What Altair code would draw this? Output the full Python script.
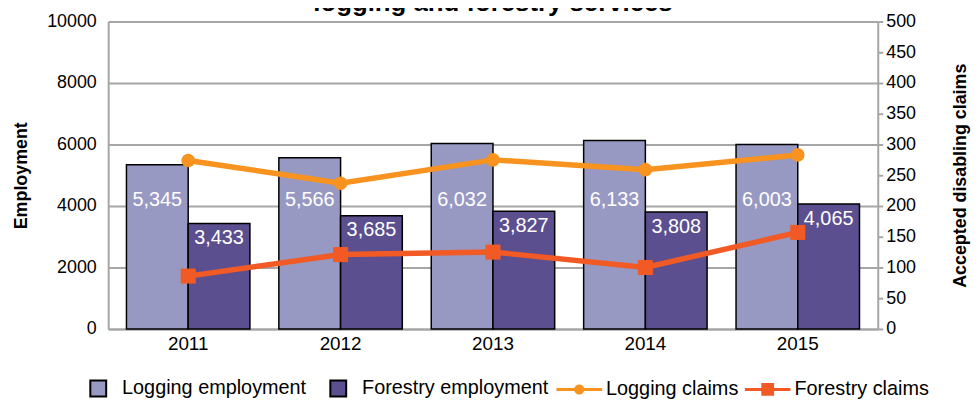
import altair as alt
import pandas as pd

# ---- data ----
years = ["2011", "2012", "2013", "2014", "2015"]
logging_employment = [5345, 5566, 6032, 6133, 6003]
forestry_employment = [3433, 3685, 3827, 3808, 4065]
logging_claims = [274, 237, 275, 259, 283]
forestry_claims = [86, 121, 125, 100, 157]

emp_series = ["Logging employment", "Forestry employment"]
claim_series = ["Logging claims", "Forestry claims"]
emp_colors = ["#9899c3", "#5b4f8f"]
claim_colors = ["#f7931e", "#f15a24"]
left_ticks = [0, 2000, 4000, 6000, 8000, 10000]
right_ticks = [0, 50, 100, 150, 200, 250, 300, 350, 400, 450, 500]

FONT = "Liberation Sans"

emp_df = pd.DataFrame({
    "year": years * 2,
    "series": [emp_series[0]] * len(years) + [emp_series[1]] * len(years),
    "value": logging_employment + forestry_employment,
})
emp_df["label"] = emp_df["value"].map(lambda v: f"{v:,}")

claims_df = pd.DataFrame({
    "year": years * 2,
    "series": [claim_series[0]] * len(years) + [claim_series[1]] * len(years),
    "claims": logging_claims + forestry_claims,
})

# ---- shared encodings ----
x_scale = alt.Scale(domain=years, paddingInner=0.19, paddingOuter=0.12)
x_enc = alt.X(
    "year:N", scale=x_scale,
    axis=alt.Axis(title=None, labelAngle=0, ticks=False, tickSize=0,
                  domainColor="#a6a6a6", domainWidth=2, labelFontSize=19,
                  labelPadding=6, labelColor="black", labelFont=FONT),
)
xoff = alt.XOffset("series:N", sort=emp_series,
                   scale=alt.Scale(domain=emp_series, paddingInner=0, paddingOuter=0))
y_left_scale = alt.Scale(domain=[0, 10000], nice=False)
y_left = alt.Y(
    "value:Q", scale=y_left_scale,
    axis=alt.Axis(title="Employment", values=left_ticks, format="d", ticks=False, tickSize=0,
                  grid=True, gridColor="#a6a6a6", gridWidth=2,
                  domainColor="#a6a6a6", domainWidth=2,
                  labelFontSize=18, labelPadding=12, labelColor="black", labelFont=FONT,
                  titleFontSize=18, titleFontWeight="bold", titleFont=FONT,
                  titleColor="black", titlePadding=16),
)
y_right_scale = alt.Scale(domain=[0, 500], nice=False)
y_right = alt.Y(
    "claims:Q", scale=y_right_scale,
    axis=alt.Axis(orient="right", title="Accepted disabling claims", values=right_ticks,
                  grid=False, ticks=True, tickSize=5, tickColor="#a6a6a6", tickWidth=2,
                  domainColor="#a6a6a6", domainWidth=2,
                  labelFontSize=18, labelPadding=3, labelColor="black", labelFont=FONT,
                  titleFontSize=18, titleFontWeight="bold", titleFont=FONT,
                  titleColor="black", titleAngle=270, titlePadding=54),
)

# ---- employment bars ----
bars = alt.Chart(emp_df).mark_bar(stroke="black", strokeWidth=1.5).encode(
    x=x_enc,
    xOffset=xoff,
    y=y_left,
    fill=alt.Fill(
        "series:N",
        scale=alt.Scale(domain=emp_series, range=emp_colors),
        legend=alt.Legend(title=None, orient="none", direction="horizontal",
                          legendX=-20, legendY=360, symbolType="square",
                          symbolSize=256, symbolStrokeColor="black",
                          symbolStrokeWidth=2, labelFontSize=20, labelFont=FONT,
                          labelColor="black", labelOffset=14, columnPadding=20,
                          labelLimit=400),
    ),
)

labels_logging = alt.Chart(emp_df).transform_filter(
    alt.datum.series == emp_series[0]
).mark_text(color="white", fontSize=20, font=FONT, baseline="middle").encode(
    x=x_enc, xOffset=xoff,
    y=alt.datum(4200, scale=y_left_scale),
    text="label:N",
)
labels_forestry = alt.Chart(emp_df).transform_filter(
    alt.datum.series == emp_series[1]
).mark_text(color="white", fontSize=20, font=FONT, baseline="top", dy=5).encode(
    x=x_enc, xOffset=xoff,
    y=alt.Y("value:Q", scale=y_left_scale),
    text="label:N",
)

emp_layer = alt.layer(bars, labels_logging, labels_forestry)

# ---- claims lines ----
marker_shapes = ["circle", "square"]
marker_sizes = [190, 230]
claim_layers = []
for s, c in zip(claim_series, claim_colors):
    claim_layers.append(
        alt.Chart(claims_df).transform_filter(alt.datum.series == s)
        .mark_line(color=c, strokeWidth=5.5)
        .encode(x=x_enc, y=y_right)
    )
for s, c, shp, sz in zip(claim_series, claim_colors, marker_shapes, marker_sizes):
    claim_layers.append(
        alt.Chart(claims_df).transform_filter(alt.datum.series == s)
        .mark_point(color=c, filled=True, opacity=1, shape=shp, size=sz)
        .encode(x=x_enc, y=y_right)
    )

# legend-only layer (line + marker symbols)
legend_paths = [
    "M-1,-0.065H1V0.065H-1Z M0,-0.22A0.22,0.22,0,1,1,0,0.22A0.22,0.22,0,1,1,0,-0.22Z",
    "M-1,-0.065H1V0.065H-1Z M-0.28,-0.28H0.28V0.28H-0.28Z",
]
claims_legend = alt.Legend(title=None, orient="none", direction="horizontal",
                           legendX=452, legendY=348, symbolSize=2116,
                           labelFontSize=20, labelFont=FONT, labelColor="black",
                           labelOffset=4, columnPadding=6, symbolStrokeWidth=0,
                           labelLimit=400)
legend_layer = alt.Chart(claims_df).transform_filter("false").mark_point(
    filled=True, opacity=1
).encode(
    color=alt.Color("series:N", scale=alt.Scale(domain=claim_series, range=claim_colors),
                    legend=claims_legend),
    shape=alt.Shape("series:N", scale=alt.Scale(domain=claim_series, range=legend_paths),
                    legend=claims_legend),
)

claims_layer = alt.layer(*claim_layers, legend_layer)

chart = alt.layer(emp_layer, claims_layer).resolve_scale(
    y="independent"
).properties(
    width=776,
    height=310,
    autosize=alt.AutoSizeParams(type="none"),
    padding={"left": 101, "top": 12, "right": 94, "bottom": 70},
    title=alt.TitleParams("logging and forestry services", fontSize=26, font=FONT,
                          fontWeight="bold", color="black", anchor="middle",
                          baseline="alphabetic", offset=-24),
).configure_view(stroke=None).configure(font=FONT)

chart.save("out.html", embed_options={"renderer": "svg", "actions": False})
